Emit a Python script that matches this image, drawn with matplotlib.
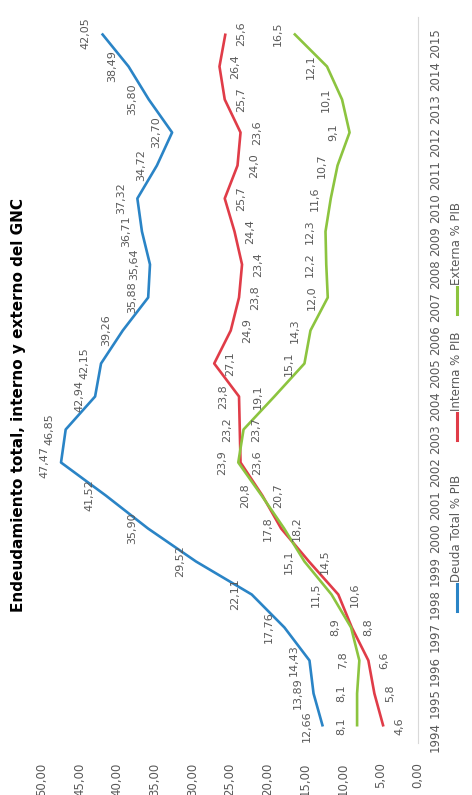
import matplotlib.pyplot as plt
from matplotlib.lines import Line2D

years = list(range(1994, 2016))
deuda_total = [12.66, 13.89, 14.43, 17.76, 22.11, 29.52, 35.90, 41.52, 47.47, 46.85, 42.94,
               42.15, 39.26, 35.88, 35.64, 36.71, 37.32, 34.72, 32.70, 35.80, 38.49, 42.05]
interna = [4.6, 5.8, 6.6, 8.8, 10.6, 14.5, 18.2, 20.7, 23.6, 23.7, 23.8,
           27.1, 24.9, 23.8, 23.4, 24.4, 25.7, 24.0, 23.6, 25.7, 26.4, 25.6]
externa = [8.1, 8.1, 7.8, 8.9, 11.5, 15.1, 17.8, 20.8, 23.9, 23.2, 19.1,
           15.1, 14.3, 12.0, 12.2, 12.3, 11.6, 10.7, 9.1, 10.1, 12.1, 16.5]
value_ticks = [0, 5, 10, 15, 20, 25, 30, 35, 40, 45, 50]

title = 'Endeudamiento total, interno y externo del GNC'
names = ['Deuda Total % PIB', 'Interna % PIB', 'Externa % PIB']
colors = ['#2a84c6', '#e03c48', '#8cc43f']
gray = '#595959'


def fmt(v, dec):
    return ('{:.%df}' % dec).format(v).replace('.', ',')


# the chart is drawn turned a quarter turn: values run right to left, years bottom to top
fig = plt.figure(figsize=(4.72, 7.95), dpi=100)
ax = fig.add_axes([42 / 472, 52 / 795, 376 / 472, 726 / 795])

series = [(deuda_total, 2, -1), (interna, 1, 1), (externa, 1, -1)]
for i, ((vals, dec, side), c) in enumerate(zip(series, colors)):
    ax.plot(vals, years, color=c, lw=1.9, solid_capstyle='butt')
    for v, y in zip(vals, years):
        s = side
        if i == 1 and y == 2004:
            s = -1  # this one sits on the other side in the original
        ax.annotate(fmt(v, dec), (v, y), textcoords='offset points',
                    xytext=(8 * s, 0), rotation=90, va='center',
                    ha='right' if s < 0 else 'left', fontsize=8, color=gray)

ax.set_xlim(50, 0)
ax.set_ylim(1993.5, 2015.5)
ax.set_xticks(value_ticks)
ax.set_xticklabels([fmt(v, 2) for v in value_ticks], rotation=90)
ax.set_yticks(years)
ax.set_yticklabels([str(y) for y in years], rotation=90)
ax.yaxis.tick_right()
ax.tick_params(axis='x', length=0, pad=14, labelsize=8.5, labelcolor=gray)
ax.tick_params(axis='y', length=0, pad=8, labelsize=8.5, labelcolor=gray)
for s in ['top', 'bottom', 'left']:
    ax.spines[s].set_visible(False)
ax.spines['right'].set_color('#d9d9d9')

fig.text(19 / 472, 1 - 405 / 795, title, rotation=90, ha='center', va='center',
         fontsize=11, fontweight='bold', color='black')

# legend, turned like the rest
leg_y = [584, 413, 287]
for name, c, y0 in zip(names, colors, leg_y):
    x = 457 / 472
    fig.add_artist(Line2D([x, x], [1 - (y0 + 27) / 795, 1 - y0 / 795], color=c, lw=2.2,
                          transform=fig.transFigure))
    fig.text(x, 1 - (y0 - 2) / 795, name, rotation=90, ha='center', va='bottom',
             fontsize=8.5, color=gray)

fig.savefig('out.png', dpi=100)
